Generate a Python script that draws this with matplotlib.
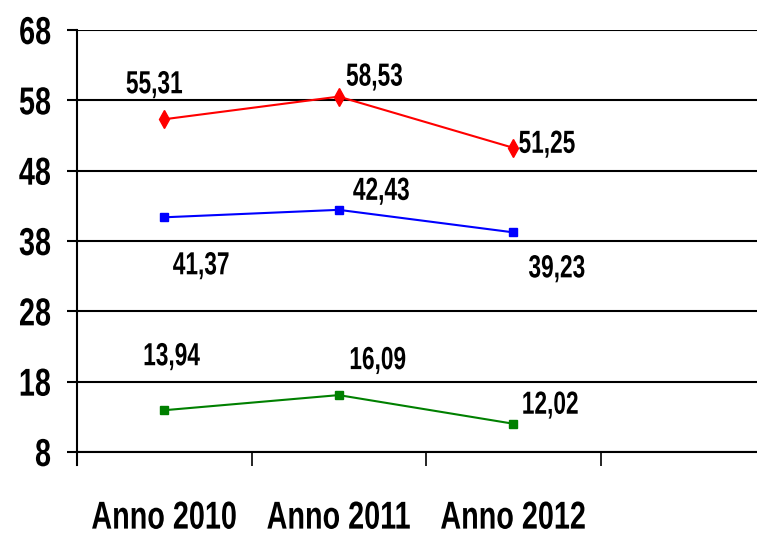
import matplotlib
matplotlib.use("Agg")
import matplotlib.pyplot as plt
from matplotlib import patheffects
from matplotlib.path import Path
from matplotlib.transforms import Affine2D

#data
categories = ["Anno 2010", "Anno 2011", "Anno 2012"]
serie_rossa = [55.31, 58.53, 51.25]
serie_blu = [41.37, 42.43, 39.23]
serie_verde = [13.94, 16.09, 12.02]
y_ticks = [8, 18, 28, 38, 48, 58, 68]


#no narrow font installed -> squeeze the glyph paths horizontally
class Squeeze(patheffects.AbstractPathEffect):
    def __init__(self, sx=0.72, pivot="center"):
        super().__init__()
        self.sx = sx
        self.pivot = pivot

    def draw_path(self, renderer, gc, tpath, affine, rgbFace=None):
        v = tpath.vertices
        if tpath.codes is not None:
            v = v[tpath.codes != Path.CLOSEPOLY]
        if len(v) == 0:
            return
        lo, hi = v[:, 0].min(), v[:, 0].max()
        p = {"left": lo, "center": (lo + hi) / 2, "right": hi}[self.pivot]
        sq = Affine2D().translate(-p, 0).scale(self.sx, 1).translate(p, 0)
        renderer.draw_path(gc, tpath, sq + affine, rgbFace)


plt.rcParams["font.family"] = ["Liberation Sans", "DejaVu Sans"]
plt.rcParams["font.weight"] = "bold"

fig = plt.figure(figsize=(7.57, 5.37), dpi=100)
#axes has 4 category slots, the last one runs off the right edge
ax = fig.add_axes([77 / 757, 85 / 537, 4 * 174.5 / 757, 422 / 537])

x = list(range(len(categories)))
ax.plot(x, serie_rossa, color="#ff0000", lw=1.5, marker="d", markersize=9, zorder=3)
ax.plot(x, serie_blu, color="#0000ff", lw=1.5, marker="s", markersize=6, zorder=3)
ax.plot(x, serie_verde, color="#008000", lw=1.5, marker="s", markersize=6, zorder=3)

#label offsets in pixels (dx, dy, horizontal alignment)
offs_rossa = [(-10, 34, "center"), (7, 19, "left"), (5, 3, "left")]
offs_blu = [(37, -49, "center"), (14, 18, "left"), (15, -37, "left")]
offs_verde = [(7, 53, "center"), (10, 34, "left"), (8, 18, "left")]

for serie, offs in [(serie_rossa, offs_rossa), (serie_blu, offs_blu), (serie_verde, offs_verde)]:
    for xi, v, (dx, dy, ha) in zip(x, serie, offs):
        ax.annotate(f"{v:.2f}".replace(".", ","), (xi, v), xytext=(dx, dy),
                    textcoords="offset pixels", ha=ha, va="center",
                    fontsize=23, fontweight="bold", color="black",
                    path_effects=[Squeeze(0.71, ha)])

ax.set_xlim(-0.5, 3.5)
ax.set_ylim(8, 68)
ax.set_yticks(y_ticks)
ax.set_yticklabels([str(t) for t in y_ticks], fontsize=28, fontweight="bold")
for t in ax.get_yticklabels():
    t.set_path_effects([Squeeze(0.74, "right")])
ax.set_xticks([-0.5, 0.5, 1.5, 2.5, 3.5])
ax.set_xticklabels([])
ax.set_xticks(x, minor=True)
ax.set_xticklabels(categories, minor=True, fontsize=28, fontweight="bold")
for t in ax.get_xticklabels(minor=True):
    t.set_path_effects([Squeeze(0.74, "center")])
ax.tick_params(axis="x", which="minor", length=0, pad=35)
ax.tick_params(axis="x", which="major", length=10, width=1.2, color="black")
ax.tick_params(axis="y", length=7.5, width=1.5, pad=11)

ax.grid(axis="y", color="black", lw=1.5)
ax.set_axisbelow(True)
for s in ["top", "right"]:
    ax.spines[s].set_visible(False)
ax.spines["left"].set_linewidth(1.5)
ax.spines["bottom"].set_linewidth(1.5)
ax.spines["left"].set_bounds(8 - 13 / 7.03, 68)
ax.spines["left"].set_clip_on(False)

fig.savefig("out.png", dpi=100)
